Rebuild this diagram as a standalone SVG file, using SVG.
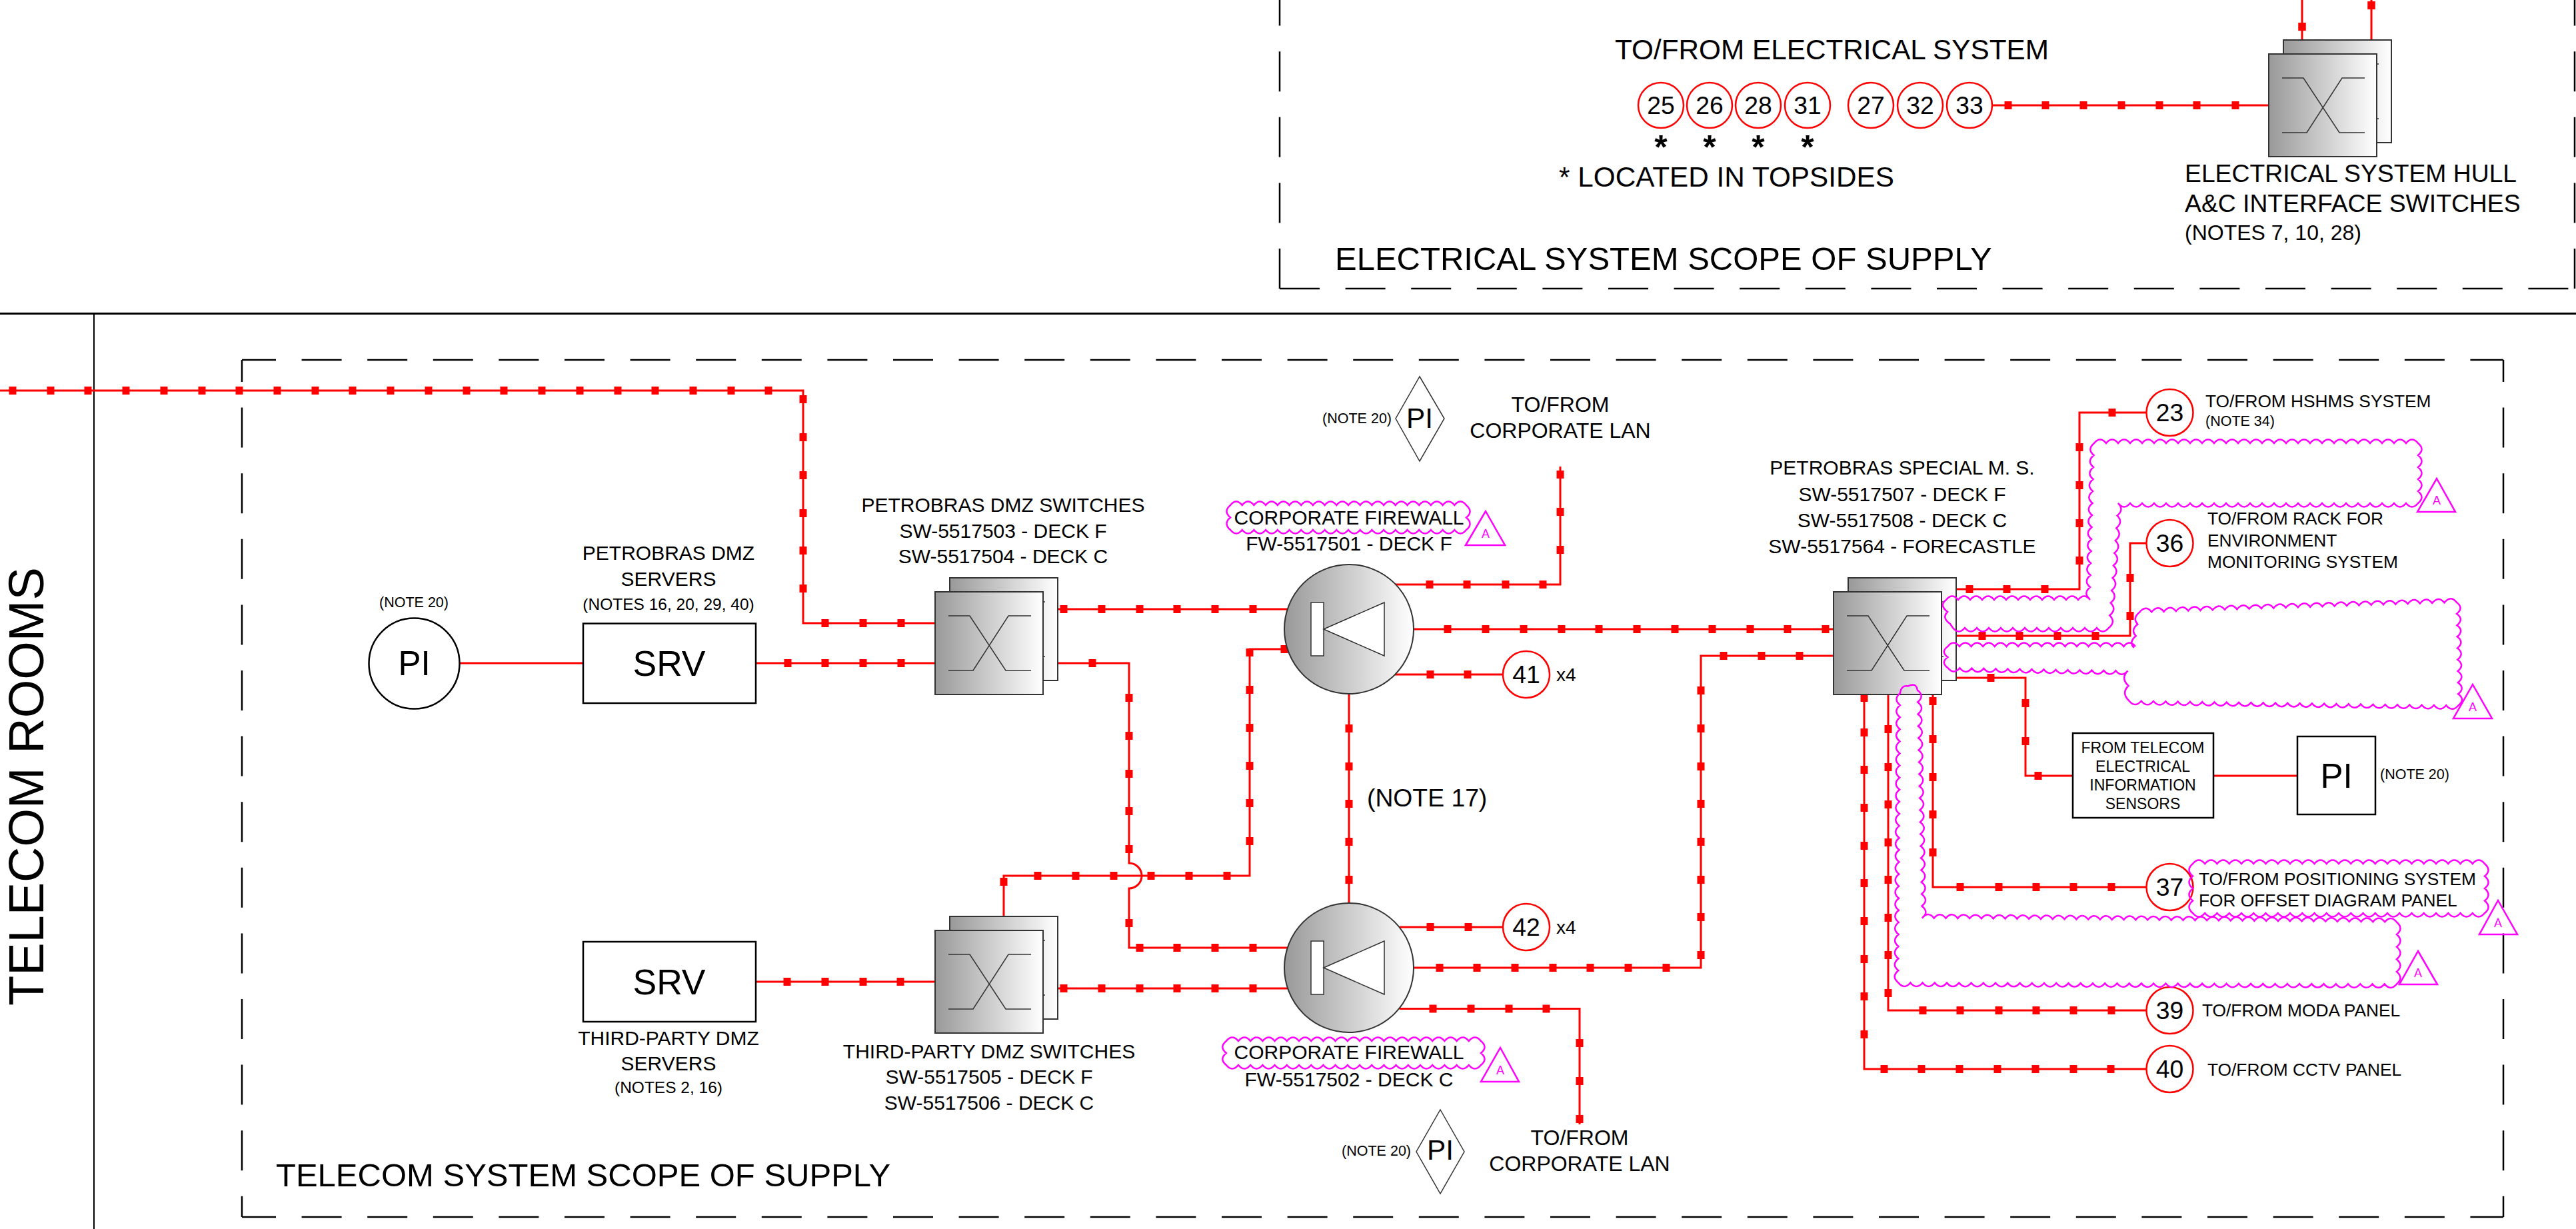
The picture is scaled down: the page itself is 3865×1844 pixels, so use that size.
<svg xmlns="http://www.w3.org/2000/svg" width="3865" height="1844" viewBox="0 0 3865 1844">
<style>
text{font-family:"Liberation Sans",Arial,sans-serif;fill:#000}
.c{fill:none;stroke:#f00;stroke-width:3}
.t{fill:none;stroke:none;marker-start:url(#tick);marker-mid:url(#tick);marker-end:url(#tick)}
.m{text-anchor:middle}
.s20{font-size:21.5px}.s23{font-size:23px}.s26{font-size:26.3px}.s28{font-size:28px}.s30{font-size:30px}.s31{font-size:32px}.s37{font-size:37.3px}.s42{font-size:42.3px}.s48{font-size:49px}.s51{font-size:51px}.s53{font-size:53.5px}
.b{fill:#fff;stroke:#000;stroke-width:2.5}
.o{fill:#fff;stroke:#f00;stroke-width:2.5}
.d{fill:none;stroke:#000;stroke-width:2.5;stroke-dasharray:60 38.6}
.cl{fill:none;stroke:#f0f;stroke-width:2.5}
.r{fill:none;stroke:#f0f;stroke-width:2.5}
.rt{font-size:18px;fill:#f0f;text-anchor:middle}
.g{fill:url(#gr);stroke:#333;stroke-width:2}
.x{fill:none;stroke:#333;stroke-width:1.5}
.a{font-size:50px;font-weight:bold;text-anchor:middle}
</style>
<defs>
<linearGradient id="gr" x1="0" y1="0" x2="1" y2="0"><stop offset="0" stop-color="#999"/><stop offset="1" stop-color="#fff"/></linearGradient>
<marker id="tick" markerUnits="userSpaceOnUse" markerWidth="11" markerHeight="12" refX="5.5" refY="6" overflow="visible"><rect width="11" height="12" fill="#f00"/></marker>
<g id="sw">
<rect class="g" x="22" y="-21" width="162" height="154"/>
<rect class="g" width="162" height="154"/>
<path class="x" d="M20 36H52L106 118H144M20 118H57L110 36H144M162 15h3M162 97h3"/>
</g>
<g id="fw">
<ellipse class="g" rx="97" ry="97"/>
<rect fill="#fff" stroke="#333" stroke-width="1.5" x="-57" y="-40" width="19" height="80"/>
<path fill="#fff" stroke="#333" stroke-width="1.5" d="M-38 0L53-40V40Z"/>
</g>
</defs>
<rect width="3865" height="1844" fill="#fff"/>

<g id="frame">
<path d="M0 470.5H3865" fill="none" stroke="#000" stroke-width="3"/>
<path d="M141 470V1844" fill="none" stroke="#000" stroke-width="2"/>
<path class="d" d="M1920 433V0"/>
<path class="d" d="M1920 433H3863"/>
<path class="d" d="M3863 433V0"/>
<path class="d" stroke-dashoffset="9" d="M363 540H3756"/>
<path class="d" stroke-dashoffset="9" d="M363 1826H3756"/>
<path class="d" stroke-dashoffset="27" d="M363 540V1826"/>
<path class="d" stroke-dashoffset="27" d="M3756 540V1826"/>
<text class="s48" x="2003" y="405">ELECTRICAL SYSTEM SCOPE OF SUPPLY</text>
<text class="s48" x="414" y="1780">TELECOM SYSTEM SCOPE OF SUPPLY</text>
<text font-size="74" transform="translate(65 1509) rotate(-90)">TELECOM ROOMS</text>
</g>

<g id="connectors">
<path class="c" d="M0 586H1205V935H1403"/>
<path class="t" d="M19 586 76 586 132 586 189 586 246 586 303 586 359 586 416 586 473 586 529 586 586 586 643 586 700 586 756 586 813 586 870 586 927 586 983 586 1040 586 1097 586 1153 586 1205 599 1205 656 1205 713 1205 770 1205 826 1205 883 1238 935 1295 935 1352 935"/>
<path class="c" d="M689 995H875"/>
<path class="c" d="M1134 995H1403"/>
<path class="t" d="M1182 995 1238 995 1295 995 1352 995"/>
<path class="c" d="M1587 914H1932"/>
<path class="t" d="M1596 914 1653 914 1710 914 1766 914 1823 914 1880 914"/>
<path class="c" d="M1587 995H1694V1295a19 19 0 0 1 0 38V1422H1932"/>
<path class="t" d="M1639 995 1694 1047 1694 1104 1694 1161 1694 1217 1694 1274 1694 1385 1710 1422 1766 1422 1823 1422 1880 1422"/>
<path class="c" d="M1506 1375V1314H1875V974H1932"/>
<path class="t" d="M1506 1323 1557 1314 1614 1314 1671 1314 1727 1314 1784 1314 1841 1314 1875 1262 1875 1205 1875 1149 1875 1092 1875 1035 1875 979 1927 974"/>
<path class="c" d="M2024 1041V1356"/>
<path class="t" d="M2024 1093 2024 1150 2024 1206 2024 1263 2024 1320"/>
<path class="c" d="M1134 1473H1403"/>
<path class="t" d="M1181 1473 1238 1473 1295 1473 1351 1473"/>
<path class="c" d="M1587 1483H1932"/>
<path class="t" d="M1596 1483 1653 1483 1710 1483 1766 1483 1823 1483 1880 1483"/>
<path class="c" d="M2092 877H2341V700"/>
<path class="t" d="M2145 877 2201 877 2259 877 2315 877 2341 825 2341 768 2341 712"/>
<path class="c" d="M2121 944H2751"/>
<path class="t" d="M2172 944 2229 944 2286 944 2343 944 2399 944 2456 944 2513 944 2569 944 2626 944 2682 944 2739 944"/>
<path class="c" d="M2092 1012H2255"/>
<path class="t" d="M2146 1012 2202 1012"/>
<path class="c" d="M2100 1391H2255"/>
<path class="t" d="M2146 1391 2203 1391"/>
<path class="c" d="M2121 1452H2552V984H2751"/>
<path class="t" d="M2160 1452 2216 1452 2273 1452 2330 1452 2386 1452 2443 1452 2500 1452 2552 1433 2552 1376 2552 1320 2552 1263 2552 1206 2552 1150 2552 1093 2552 1036 2586 984 2643 984 2700 984"/>
<path class="c" d="M2100 1513.5H2370V1687"/>
<path class="t" d="M2150 1513.5 2207 1513.5 2264 1513.5 2320 1513.5 2370 1565 2370 1622 2370 1679"/>
<path class="c" d="M2935 884H3120V619H3221"/>
<path class="t" d="M2955 884 3011 884 3068 884 3120 841 3120 785 3120 728 3120 671 3169 619"/>
<path class="c" d="M2935 954H3196V815H3221"/>
<path class="t" d="M2974 954 3030 954 3087 954 3144 954 3196 924 3196 867"/>
<path class="c" d="M2935 1017H3039V1164H3110"/>
<path class="t" d="M2987 1017 3039 1055 3039 1112 3058 1164"/>
<path class="c" d="M3321 1164H3447"/>
<path class="c" d="M2900 1042V1331H3221"/>
<path class="t" d="M2900 1052 2900 1109 2900 1166 2900 1222 2900 1279 2941 1331 2999 1331 3055 1331 3111 1331 3168 1331"/>
<path class="c" d="M2833 1042V1516H3221"/>
<path class="t" d="M2833 1094 2833 1151 2833 1207 2833 1264 2833 1320 2833 1377 2833 1433 2833 1490 2885 1516 2941 1516 2999 1516 3055 1516 3111 1516 3168 1516"/>
<path class="c" d="M2797 1042V1604H3221"/>
<path class="t" d="M2797 1047 2797 1099 2797 1155 2797 1212 2797 1269 2797 1325 2797 1382 2797 1439 2797 1495 2797 1552 2827 1604 2883 1604 2940 1604 2997 1604 3054 1604 3111 1604 3167 1604"/>
<path class="c" d="M2989 158H3404"/>
<path class="t" d="M3013 158 3069 158 3126 158 3183 158 3240 158 3296 158 3354 158"/>
<path class="c" d="M3454 0V60"/>
<path class="t" d="M3454 40 3454 40.1"/>
<path class="c" d="M3558 0V60"/>
<path class="t" d="M3558 8 3558 8.1"/>
</g>

<g id="pi-circle"><ellipse class="b" cx="621.5" cy="995.5" rx="68" ry="68"/><text class="s51 m" x="621.5" y="1013">PI</text><text class="s20 m" x="621" y="911">(NOTE 20)</text></g>
<g id="srv-petrobras"><rect class="b" x="875" y="935.5" width="259" height="119.5"/><text class="s53 m" x="1004" y="1014">SRV</text><text class="s30 m" x="1003" y="840">PETROBRAS DMZ</text><text class="s30 m" x="1003" y="879">SERVERS</text><text font-size="24.5" class="m" x="1003" y="915">(NOTES 16, 20, 29, 40)</text></g>
<g id="srv-third"><rect class="b" x="875" y="1413" width="259" height="120"/><text class="s53 m" x="1004" y="1492">SRV</text><text class="s30 m" x="1003" y="1568">THIRD-PARTY DMZ</text><text class="s30 m" x="1003" y="1606">SERVERS</text><text font-size="24.5" class="m" x="1003" y="1640">(NOTES 2, 16)</text></g>
<g id="sw-petrobras"><use href="#sw" x="1403" y="888"/><text class="s30 m" x="1505" y="768">PETROBRAS DMZ SWITCHES</text><text class="s30 m" x="1505" y="807">SW-5517503 - DECK F</text><text class="s30 m" x="1505" y="845">SW-5517504 - DECK C</text></g>
<g id="sw-third"><use href="#sw" x="1403" y="1396"/><text class="s30 m" x="1484" y="1587.5">THIRD-PARTY DMZ SWITCHES</text><text class="s30 m" x="1484" y="1626">SW-5517505 - DECK F</text><text class="s30 m" x="1484" y="1665">SW-5517506 - DECK C</text></g>
<g id="fw-1"><use href="#fw" x="2024" y="944"/><text class="s30 m" x="2024" y="787">CORPORATE FIREWALL</text><text class="s30 m" x="2024" y="826">FW-5517501 - DECK F</text></g>
<g id="fw-2"><use href="#fw" x="2024" y="1452"/><text class="s30 m" x="2024" y="1589">CORPORATE FIREWALL</text><text class="s30 m" x="2024" y="1630">FW-5517502 - DECK C</text></g>
<g id="note-17"><text class="s37" x="2051" y="1210">(NOTE 17)</text></g>
<g id="pi-d1"><path fill="#fff" stroke="#333" stroke-width="1.5" d="M2130 565L2167 628 2130 692 2094 628Z"/><text class="s42 m" x="2130" y="642">PI</text><text class="s20" text-anchor="end" x="2088" y="635">(NOTE 20)</text></g>
<g id="lan-1"><text class="s31 m" x="2341" y="618">TO/FROM</text><text class="s31 m" x="2341" y="657">CORPORATE LAN</text></g>
<g id="pi-d2"><path fill="#fff" stroke="#333" stroke-width="1.5" d="M2161 1665L2197 1728 2161 1791 2125 1728Z"/><text class="s42 m" x="2161" y="1740">PI</text><text class="s20" text-anchor="end" x="2117" y="1734">(NOTE 20)</text></g>
<g id="lan-2"><text class="s31 m" x="2370" y="1718">TO/FROM</text><text class="s31 m" x="2370" y="1757">CORPORATE LAN</text></g>
<g id="n41"><circle class="o" cx="2290" cy="1012" r="35"/><text class="s37 m" x="2290" y="1025">41</text><text class="s28" x="2335" y="1022">x4</text></g>
<g id="n42"><circle class="o" cx="2290" cy="1391" r="35"/><text class="s37 m" x="2290" y="1404">42</text><text class="s28" x="2335" y="1401">x4</text></g>
<g id="sw-special"><use href="#sw" x="2751" y="888"/><text class="s30 m" x="2854" y="712">PETROBRAS SPECIAL M. S.</text><text class="s30 m" x="2854" y="752">SW-5517507 - DECK F</text><text class="s30 m" x="2854" y="791">SW-5517508 - DECK C</text><text class="s30 m" x="2854" y="830">SW-5517564 - FORECASTLE</text></g>
<g id="n23"><circle class="o" cx="3255.5" cy="619" r="35"/><text class="s37 m" x="3255.5" y="632">23</text><text class="s26" x="3309" y="611">TO/FROM HSHMS SYSTEM</text><text class="s20" x="3309" y="639">(NOTE 34)</text></g>
<g id="n36"><circle class="o" cx="3255.5" cy="815" r="35"/><text class="s37 m" x="3255.5" y="828">36</text><text class="s26" x="3312" y="787">TO/FROM RACK FOR</text><text class="s26" x="3312" y="820">ENVIRONMENT</text><text class="s26" x="3312" y="852">MONITORING SYSTEM</text></g>
<g id="sensors"><rect class="b" x="3110" y="1100" width="211" height="127"/><text class="s23 m" x="3215" y="1130">FROM TELECOM</text><text class="s23 m" x="3215" y="1158">ELECTRICAL</text><text class="s23 m" x="3215" y="1186">INFORMATION</text><text class="s23 m" x="3215" y="1213.5">SENSORS</text></g>
<g id="pi-box"><rect class="b" x="3447" y="1105" width="117" height="117"/><text class="s51 m" x="3505.5" y="1182">PI</text><text class="s20" x="3571" y="1169">(NOTE 20)</text></g>
<g id="n37"><circle class="o" cx="3255.5" cy="1331" r="35"/><text class="s37 m" x="3255.5" y="1344">37</text><text class="s26" x="3299" y="1328">TO/FROM POSITIONING SYSTEM</text><text class="s26" x="3299" y="1360">FOR OFFSET DIAGRAM PANEL</text></g>
<g id="n39"><circle class="o" cx="3255.5" cy="1516" r="35"/><text class="s37 m" x="3255.5" y="1529">39</text><text class="s26" x="3304" y="1524.5">TO/FROM MODA PANEL</text></g>
<g id="n40"><circle class="o" cx="3255.5" cy="1604" r="35"/><text class="s37 m" x="3255.5" y="1617">40</text><text class="s26" x="3312" y="1613.5">TO/FROM CCTV PANEL</text></g>

<g id="electrical">
<text class="s42" x="2423" y="89">TO/FROM ELECTRICAL SYSTEM</text>
<circle class="o" cx="2492" cy="158" r="34"/><text class="s37 m" x="2492" y="171">25</text><text class="a" x="2492" y="238">*</text>
<circle class="o" cx="2565" cy="158" r="34"/><text class="s37 m" x="2565" y="171">26</text><text class="a" x="2565" y="238">*</text>
<circle class="o" cx="2638" cy="158" r="34"/><text class="s37 m" x="2638" y="171">28</text><text class="a" x="2638" y="238">*</text>
<circle class="o" cx="2712" cy="158" r="34"/><text class="s37 m" x="2712" y="171">31</text><text class="a" x="2712" y="238">*</text>
<circle class="o" cx="2807" cy="158" r="34"/><text class="s37 m" x="2807" y="171">27</text>
<circle class="o" cx="2881" cy="158" r="34"/><text class="s37 m" x="2881" y="171">32</text>
<circle class="o" cx="2955" cy="158" r="34"/><text class="s37 m" x="2955" y="171">33</text>
<text class="s42" x="2339" y="280">* LOCATED IN TOPSIDES</text>
</g>
<g id="sw-electrical"><use href="#sw" x="3404" y="81"/><text class="s37" x="3278" y="273">ELECTRICAL SYSTEM HULL</text><text class="s37" x="3278" y="318">A&amp;C INTERFACE SWITCHES</text><text class="s31" x="3278" y="360">(NOTES 7, 10, 28)</text></g>

<g id="revision-clouds">
<path class="cl" d="M3136 900q-9-11-18 0q-9-11-18 0q-9-11-18 0q-9-11-18 0q-9-11-18 0q-9-11-18 0q-9-11-18 0q-9-11-18 0q-9-11-18 0q-9-11-18 0q-9-11-18 0q-9-11-18 0q-11 8 2 18q-9 9 4 18l4 6q9 11 18 0q9 11 18 0q9 11 18 0q9 11 18 0q9 11 18 0q9 11 18 0q9 11 18 0q9 11 18 0q9 11 18 0q9 11 18 0q9 11 18 0q9 11 18 0q9 11 18 0q11-9 1.4-18.7q11-9 1.4-18.7q11-9 1.4-18.7q11-9 1.4-18.7q11-9 1.4-18.7q11-9 1.4-18.7q11-9 1.4-18.7q11-9 1.4-18.7q11-9 1.4-18.7q11-9 1.4-18.7q9 11 18 0q9 11 18 0q9 11 18 0q9 11 18 0q9 11 18 0q9 11 18 0q9 11 18 0q9 11 18 0q9 11 18 0q9 11 18 0q9 11 18 0q9 11 18 0q9 11 18 0q9 11 18 0q9 11 18 0q9 11 18 0q9 11 18 0q9 11 18 0q9 11 18 0q9 11 18 0q9 11 18 0q9 11 18 0q9 11 18 0q9 11 18 0q9 11 18 0q11-9 0-18q11-9 0-18q11-9 0-18q11-9 0-18q11-9 0-18q-9-11-18 0q-9-11-18 0q-9-11-18 0q-9-11-18 0q-9-11-18 0q-9-11-18 0q-9-11-18 0q-9-11-18 0q-9-11-18 0q-9-11-18 0q-9-11-18 0q-9-11-18 0q-9-11-18 0q-9-11-18 0q-9-11-18 0q-9-11-18 0q-9-11-18 0q-9-11-18 0q-9-11-18 0q-9-11-18 0q-9-11-18 0q-9-11-18 0q-9-11-18 0q-9-11-18 0q-9-11-18 0q-9-11-18 0q-9-11-18 0q-11 9-.5 18q-11 9-.5 18q-11 9-.5 18q-11 9-.5 18q-11 9-.5 18q-11 9-.5 18q-11 9-.5 18q-11 9-.5 18q-11 9-.5 18q-11 9-.5 18q-11 9-.5 18q-11 9-.5 18q-11 9-.5 18"/>
<path class="cl" d="M3204 970q-9-11-17.6 0q-9-11-17.6 0q-9-11-17.6 0q-9-11-17.6 0q-9-11-17.6 0q-9-11-17.6 0q-9-11-17.6 0q-9-11-17.6 0q-9-11-17.6 0q-9-11-17.6 0q-9-11-17.6 0q-9-11-17.6 0q-9-11-17.6 0q-9-11-17.6 0q-9-11-17.6 0q-9-11-17.6 0q-11 8 0 16q-11 8 0 16q9 11 18 .3q9 11 18 .3q9 11 18 .3q9 11 18 .3q9 11 18 .3q9 11 18 .3q9 11 18 .3q9 11 18 .3q9 11 18 .3q9 11 18 .3q9 11 18 .3q9 11 18 .3q9 11 18 .3q9 11 18 .3q9 11 18 .3q-11 11 1 22.5q-11 11 1 22.5q9 11 18.3 .26q9 11 18.3 .26q9 11 18.3 .26q9 11 18.3 .26q9 11 18.3 .26q9 11 18.3 .26q9 11 18.3 .26q9 11 18.3 .26q9 11 18.3 .26q9 11 18.3 .26q9 11 18.3 .26q9 11 18.3 .26q9 11 18.3 .26q9 11 18.3 .26q9 11 18.3 .26q9 11 18.3 .26q9 11 18.3 .26q9 11 18.3 .26q9 11 18.3 .26q9 11 18.3 .26q9 11 18.3 .26q9 11 18.3 .26q9 11 18.3 .26q9 11 18.3 .26q9 11 18.3 .26q9 11 18.3 .26q9 11 18.3 .26q11-9-.3-17.2q11-9-.3-17.2q11-9-.3-17.2q11-9-.3-17.2q11-9-.3-17.2q11-9-.3-17.2q11-9-.3-17.2q11-9-.3-17.2q11-9-.3-17.2q-9-11-18.3 .58q-9-11-18.3 .58q-9-11-18.3 .58q-9-11-18.3 .58q-9-11-18.3 .58q-9-11-18.3 .58q-9-11-18.3 .58q-9-11-18.3 .58q-9-11-18.3 .58q-9-11-18.3 .58q-9-11-18.3 .58q-9-11-18.3 .58q-9-11-18.3 .58q-9-11-18.3 .58q-9-11-18.3 .58q-9-11-18.3 .58q-9-11-18.3 .58q-9-11-18.3 .58q-9-11-18.3 .58q-9-11-18.3 .58q-9-11-18.3 .58q-9-11-18.3 .58q-9-11-18.3 .58q-9-11-18.3 .58q-9-11-18.3 .58q-9-11-18.3 .58q-11 9-2.7 17.7q-11 9-2.7 17.7q-11 9-2.7 17.7"/>
<path class="cl" d="M2851 1040q-11 9-.12 18.1q-11 9-.12 18.1q-11 9-.12 18.1q-11 9-.12 18.1q-11 9-.12 18.1q-11 9-.12 18.1q-11 9-.12 18.1q-11 9-.12 18.1q-11 9-.12 18.1q-11 9-.12 18.1q-11 9-.12 18.1q-11 9-.12 18.1q-11 9-.12 18.1q-11 9-.12 18.1q-11 9-.12 18.1q-11 9-.12 18.1q-11 9-.12 18.1q-11 9-.12 18.1q-11 9-.12 18.1q-11 9-.12 18.1q-11 9-.12 18.1q-11 9-.12 18.1q-11 9-.12 18.1q-11 9-.12 18.1q9 11 18.24 .05q9 11 18.24 .05q9 11 18.24 .05q9 11 18.24 .05q9 11 18.24 .05q9 11 18.24 .05q9 11 18.24 .05q9 11 18.24 .05q9 11 18.24 .05q9 11 18.24 .05q9 11 18.24 .05q9 11 18.24 .05q9 11 18.24 .05q9 11 18.24 .05q9 11 18.24 .05q9 11 18.24 .05q9 11 18.24 .05q9 11 18.24 .05q9 11 18.24 .05q9 11 18.24 .05q9 11 18.24 .05q9 11 18.24 .05q9 11 18.24 .05q9 11 18.24 .05q9 11 18.24 .05q9 11 18.24 .05q9 11 18.24 .05q9 11 18.24 .05q9 11 18.24 .05q9 11 18.24 .05q9 11 18.24 .05q9 11 18.24 .05q9 11 18.24 .05q9 11 18.24 .05q9 11 18.24 .05q9 11 18.24 .05q9 11 18.24 .05q9 11 18.24 .05q9 11 18.24 .05q9 11 18.24 .05q9 11 18.24 .05q11-9 0-18.6q11-9 0-18.6q11-9 0-18.6q11-9 0-18.6q11-9 0-18.6q-9-11-17.8-.15q-9-11-17.8-.15q-9-11-17.8-.15q-9-11-17.8-.15q-9-11-17.8-.15q-9-11-17.8-.15q-9-11-17.8-.15q-9-11-17.8-.15q-9-11-17.8-.15q-9-11-17.8-.15q-9-11-17.8-.15q-9-11-17.8-.15q-9-11-17.8-.15q-9-11-17.8-.15q-9-11-17.8-.15q-9-11-17.8-.15q-9-11-17.8-.15q-9-11-17.8-.15q-9-11-17.8-.15q-9-11-17.8-.15q-9-11-17.8-.15q-9-11-17.8-.15q-9-11-17.8-.15q-9-11-17.8-.15q-9-11-17.8-.15q-9-11-17.8-.15q-9-11-17.8-.15q-9-11-17.8-.15q-9-11-17.8-.15q-9-11-17.8-.15q-9-11-17.8-.15q-9-11-17.8-.15q-9-11-17.8-.15q-9-11-17.8-.15q-9-11-17.8-.15q-9-11-17.8-.15q-9-11-17.8-.15q-9-11-17.8-.15q-9-11-17.8-.15q-9-11-17.8-.15q11-9-.37-18q11-9-.37-18q11-9-.37-18q11-9-.37-18q11-9-.37-18q11-9-.37-18q11-9-.37-18q11-9-.37-18q11-9-.37-18q11-9-.37-18q11-9-.37-18q11-9-.37-18q11-9-.37-18q11-9-.37-18q11-9-.37-18q11-9-.37-18q11-9-.37-18q11-9-.37-18q11-9-.37-18q-2-12-14-6q-10-2-12 10z"/>
<path class="cl" d="M2200 758q-9-11-17.7 0q-9-11-17.7 0q-9-11-17.7 0q-9-11-17.7 0q-9-11-17.7 0q-9-11-17.7 0q-9-11-17.7 0q-9-11-17.7 0q-9-11-17.7 0q-9-11-17.7 0q-9-11-17.7 0q-9-11-17.7 0q-9-11-17.7 0q-9-11-17.7 0q-9-11-17.7 0q-9-11-17.7 0q-9-11-17.7 0q-9-11-17.7 0q-9-11-17.7 0q-9-11-17.7 0q-11 9 0 18.5q-11 9 0 18.5q9 11 17.7 0q9 11 17.7 0q9 11 17.7 0q9 11 17.7 0q9 11 17.7 0q9 11 17.7 0q9 11 17.7 0q9 11 17.7 0q9 11 17.7 0q9 11 17.7 0q9 11 17.7 0q9 11 17.7 0q9 11 17.7 0q9 11 17.7 0q9 11 17.7 0q9 11 17.7 0q9 11 17.7 0q9 11 17.7 0q9 11 17.7 0q9 11 17.7 0q11-9 0-18.5q11-9 0-18.5z"/>
<path class="cl" d="M2222 1562q-9-11-18.2 0q-9-11-18.2 0q-9-11-18.2 0q-9-11-18.2 0q-9-11-18.2 0q-9-11-18.2 0q-9-11-18.2 0q-9-11-18.2 0q-9-11-18.2 0q-9-11-18.2 0q-9-11-18.2 0q-9-11-18.2 0q-9-11-18.2 0q-9-11-18.2 0q-9-11-18.2 0q-9-11-18.2 0q-9-11-18.2 0q-9-11-18.2 0q-9-11-18.2 0q-9-11-18.2 0q-9-11-18.2 0q-11 9 0 18q-11 9 0 18q9 11 18.2 0q9 11 18.2 0q9 11 18.2 0q9 11 18.2 0q9 11 18.2 0q9 11 18.2 0q9 11 18.2 0q9 11 18.2 0q9 11 18.2 0q9 11 18.2 0q9 11 18.2 0q9 11 18.2 0q9 11 18.2 0q9 11 18.2 0q9 11 18.2 0q9 11 18.2 0q9 11 18.2 0q9 11 18.2 0q9 11 18.2 0q9 11 18.2 0q9 11 18.2 0q11-9 0-18q11-9 0-18z"/>
<path class="cl" d="M3728 1296q-9-11-18.25 0q-9-11-18.25 0q-9-11-18.25 0q-9-11-18.25 0q-9-11-18.25 0q-9-11-18.25 0q-9-11-18.25 0q-9-11-18.25 0q-9-11-18.25 0q-9-11-18.25 0q-9-11-18.25 0q-9-11-18.25 0q-9-11-18.25 0q-9-11-18.25 0q-9-11-18.25 0q-9-11-18.25 0q-9-11-18.25 0q-9-11-18.25 0q-9-11-18.25 0q-9-11-18.25 0q-9-11-18.25 0q-9-11-18.25 0q-9-11-18.25 0q-9-11-18.25 0q-11 9 0 18.5q-11 9 0 18.5q-11 9 0 18.5q-11 9 0 18.5q9 11 18.25 0q9 11 18.25 0q9 11 18.25 0q9 11 18.25 0q9 11 18.25 0q9 11 18.25 0q9 11 18.25 0q9 11 18.25 0q9 11 18.25 0q9 11 18.25 0q9 11 18.25 0q9 11 18.25 0q9 11 18.25 0q9 11 18.25 0q9 11 18.25 0q9 11 18.25 0q9 11 18.25 0q9 11 18.25 0q9 11 18.25 0q9 11 18.25 0q9 11 18.25 0q9 11 18.25 0q9 11 18.25 0q9 11 18.25 0q11-9 0-18.5q11-9 0-18.5q11-9 0-18.5q11-9 0-18.5z"/>
</g>

<g id="revision-marks">
<path class="r" d="M2229 767L2258 818H2199Z"/><text class="rt" x="2229" y="807">A</text>
<path class="r" d="M2251 1572L2279 1623H2222Z"/><text class="rt" x="2251" y="1612">A</text>
<path class="r" d="M3656 718L3684 768H3627Z"/><text class="rt" x="3656" y="757">A</text>
<path class="r" d="M3710 1027L3739 1078H3681Z"/><text class="rt" x="3710" y="1067">A</text>
<path class="r" d="M3748 1351L3777 1402H3720Z"/><text class="rt" x="3748" y="1391">A</text>
<path class="r" d="M3628 1427L3657 1477H3600Z"/><text class="rt" x="3628" y="1466">A</text>
</g>
</svg>
